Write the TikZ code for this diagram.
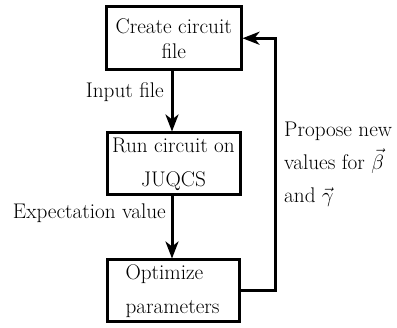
\documentclass[tikz,border=0pt]{standalone}
\usetikzlibrary{arrows.meta}
\begin{document}
\begin{tikzpicture}[x=1pt,y=-1pt,
  box/.style={draw, line width=3pt, inner sep=0pt, minimum width=#1},
  lbl/.style={inner sep=0pt, font=\fontsize{21.2}{33}\selectfont},
  arr/.style={line width=3pt, -{Stealth[length=17pt,width=13pt,inset=5pt]}}]
\useasboundingbox (0,0) rectangle (397,328);
\node[box=134.5pt, minimum height=63.5pt, align=center, font=\fontsize{21.2}{25}\selectfont] (b1) at (173.75,38.25) {Create circuit\\file};
\node[box=133pt, minimum height=62pt, align=center, font=\fontsize{21.2}{34}\selectfont] (b2) at (173.5,164) {Run circuit on\\JUQCS};
\node[box=132pt, minimum height=62pt, text width=96pt, inner xsep=18pt, align=left, font=\fontsize{21.2}{34}\selectfont] (b3) at (173.5,291) {Optimize\\parameters};
\coordinate (c1) at (275,291);
\draw[arr] ([xshift=-1.75pt]b1.south) -- ([xshift=-1.5pt]b2.north);
\draw[arr] ([xshift=-1.5pt]b2.south) -- ([xshift=-1.5pt]b3.north);
\draw[arr] (b3.east) -- (c1) |- (b1.east);
\node[lbl, anchor=east] (l1) at (164,92) {Input file};
\node[lbl, anchor=east] (l2) at (166,213) {Expectation value};
\node[lbl, anchor=west, align=left] (l3) at (284,164) {Propose new\\values for $\vec{\beta}$\\and $\vec{\gamma}$};
\end{tikzpicture}
\end{document}
